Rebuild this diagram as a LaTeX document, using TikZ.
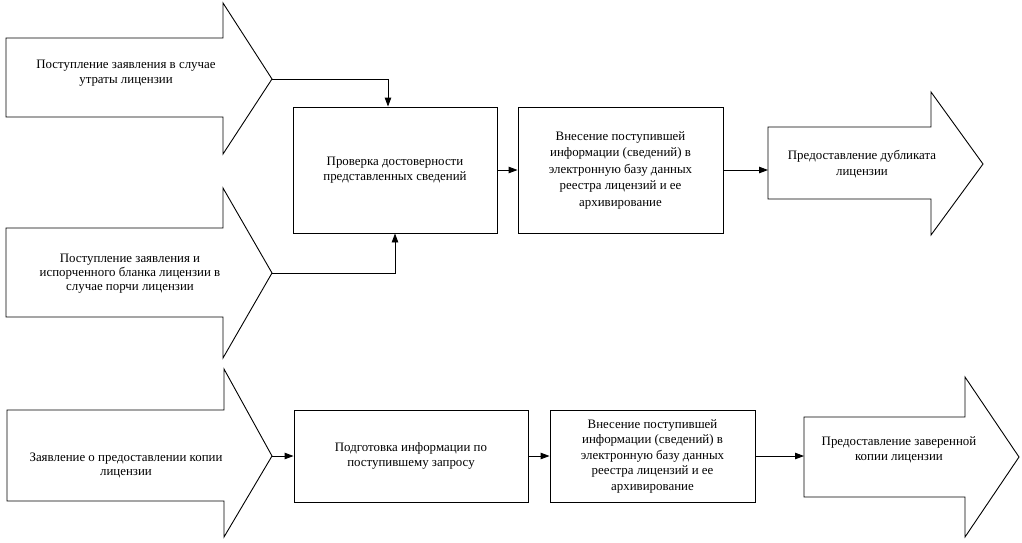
\documentclass[tikz,border=0pt]{standalone}
\usepackage{fontspec}
\setmainfont{Liberation Serif}
\usetikzlibrary{arrows.meta}
\tikzset{
  every node/.style={font=\fontsize{12.9}{15.5}\selectfont, align=center, inner sep=0pt},
  shapeline/.style={draw=black, line width=0.9pt, line join=miter},
  procbox/.style={draw=black, line width=0.9pt},
  conn/.style={draw=black, line width=0.9pt, -{Triangle[length=9pt,width=6.5pt]}},
  tight/.style={font=\fontsize{12.9}{14}\selectfont},
  loose/.style={font=\fontsize{12.9}{16.5}\selectfont}
}
\begin{document}
\begin{tikzpicture}[x=1pt,y=-1pt]
\useasboundingbox (0,0) rectangle (1022,542);
\fill[white] (0,0) rectangle (1022,542);

% big input / output arrows
\draw[shapeline] (6,38) -- (223,38) -- (223,3) -- (272,79) -- (223,154) -- (223,117) -- (6,117) -- cycle;
\coordinate (a1tip) at (272,79);
\node (t1) at (126,73) {Поступление заявления в случае\\утраты лицензии};

\draw[shapeline] (6,228) -- (223,228) -- (223,188) -- (272,273) -- (223,358) -- (223,317) -- (6,317) -- cycle;
\coordinate (a2tip) at (272,273);
\node[tight] (t2) at (130,274) {Поступление заявления и\\испорченного бланка лицензии в\\случае порчи лицензии};

\draw[shapeline] (768,127) -- (931,127) -- (931,92) -- (983,164) -- (931,235) -- (931,199) -- (768,199) -- cycle;
\coordinate (a3in) at (768,170);
\node (t3) at (862,164) {Предоставление дубликата\\лицензии};

\draw[shapeline] (7,410) -- (224,410) -- (224,369) -- (272,456) -- (224,537) -- (224,501) -- (7,501) -- cycle;
\coordinate (a4tip) at (272,456);
\node[tight] (t4) at (126,465) {Заявление о предоставлении копии\\лицензии};

\draw[shapeline] (804,417) -- (965,417) -- (965,377) -- (1019,457) -- (965,537) -- (965,497) -- (804,497) -- cycle;
\coordinate (a5in) at (804,456);
\node (t5) at (899,450) {Предоставление заверенной\\копии лицензии};

% process boxes
\node[procbox, minimum width=204pt, minimum height=126pt] (b1) at (395,170)
  {Проверка достоверности\\представленных сведений};
\node[procbox, loose, minimum width=205pt, minimum height=126pt] (b2) at (620.5,170)
  {Внесение поступившей\\информации (сведений) в\\электронную базу данных\\реестра лицензий и ее\\архивирование};
\node[procbox, minimum width=234pt, minimum height=92pt] (b3) at (411,456)
  {Подготовка информации по\\поступившему запросу};
\node[procbox, minimum width=205pt, minimum height=92pt] (b4) at (652.5,456)
  {Внесение поступившей\\информации (сведений) в\\электронную базу данных\\реестра лицензий и ее\\архивирование};

% connectors
\coordinate (k1) at (388,79);
\coordinate (k2) at (395,273);
\draw[conn] (a1tip) -- (k1) -- (k1 |- b1.north);
\draw[conn] (a2tip) -- (k2) -- (k2 |- b1.south);
\draw[conn] (b1) -- (b2);
\draw[conn] (b2.east) -- (a3in);
\draw[conn] (a4tip) -- (b3.west);
\draw[conn] (b3) -- (b4);
\draw[conn] (b4.east) -- (a5in);
\end{tikzpicture}
\end{document}
